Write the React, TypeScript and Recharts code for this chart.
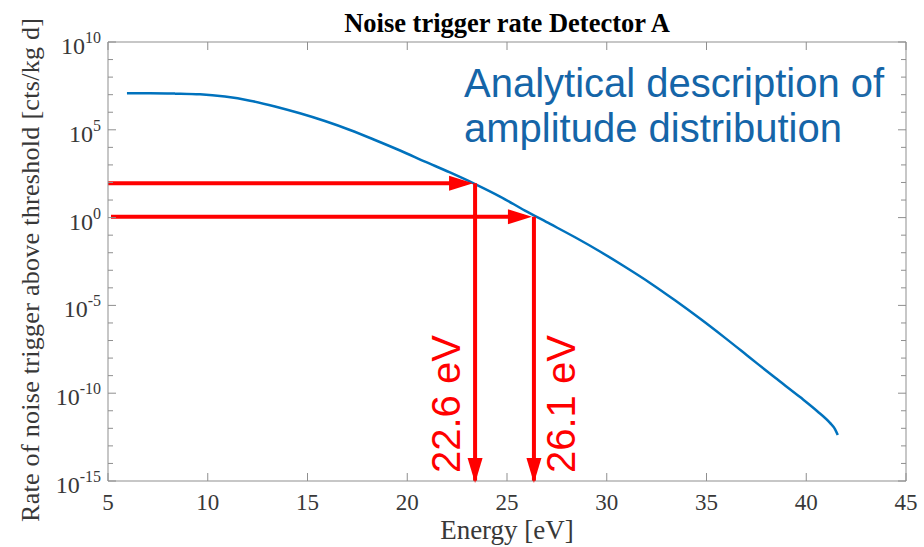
import React from "react";
import {
  LineChart,
  Line,
  XAxis,
  YAxis,
  ReferenceLine,
  ReferenceDot,
} from "recharts";

// energy [eV] and log10 of the trigger rate [cts/kg d]
const energy = [
  5.95, 7.11, 8.36, 9.61, 10.86, 12.12, 13.37, 14.62, 15.87, 17.13, 18.38, 19.64,
  20.89, 22.14, 23.4, 24.65, 25.9, 27.16, 28.41, 29.66, 30.91, 32.17, 33.42, 34.67,
  35.93, 37.18, 38.43, 39.69, 40.54, 41.19, 41.44, 41.58,
];
const logRate = [
  7.08, 7.08, 7.06, 7.02, 6.89, 6.66, 6.33, 5.94, 5.5, 4.99, 4.42, 3.82,
  3.19, 2.57, 1.91, 1.2, 0.4, -0.36, -1.12, -1.93, -2.8, -3.72, -4.71, -5.75,
  -6.85, -7.98, -9.11, -10.22, -11.01, -11.69, -12.04, -12.38,
];

// threshold arrows
const thresholdEnergy = [23.4, 26.35];
const thresholdRate = [89, 1.12];
const arrowStart = [5, 5.15];
const thresholdLabels = ["22.6 eV", "26.1 eV"];

const xTicks = [5, 10, 15, 20, 25, 30, 35, 40, 45];
const decades = [
  -15, -14, -13, -12, -11, -10, -9, -8, -7, -6, -5, -4, -3, -2, -1, 0, 1, 2, 3, 4,
  5, 6, 7, 8, 9, 10,
];

const data = energy.map((e, i) => ({ energy: e, rate: Math.pow(10, logRate[i]) }));
const yTicks = decades.map((d) => Math.pow(10, d));

const AXIS = "#8f8f8f";
const TEXT = "#383838";
const RED = "#ff0000";
const SERIF = "'Liberation Serif', 'Times New Roman', serif";
const SANS = "'Liberation Sans', Arial, sans-serif";

const expOf = (v: number) => Math.round(Math.log10(v));

function LeftTick({ x, y, payload }: any) {
  const exp = expOf(payload.value);
  const major = exp % 5 === 0;
  return (
    <g>
      <line x1={x} y1={y} x2={x + (major ? 8 : 5)} y2={y} stroke={AXIS} strokeWidth={1} />
      {major && (
        <text x={x - 7} y={y + 12} textAnchor="end" fontFamily={SERIF} fontSize={24} fill={TEXT}>
          10
          <tspan dy={-11} fontSize={16}>
            {exp}
          </tspan>
        </text>
      )}
    </g>
  );
}

function RightTick({ x, y, payload }: any) {
  const major = expOf(payload.value) % 5 === 0;
  return <line x1={x} y1={y} x2={x - (major ? 8 : 5)} y2={y} stroke={AXIS} strokeWidth={1} />;
}

function BottomTick({ x, y, payload }: any) {
  return (
    <g>
      <line x1={x} y1={y} x2={x} y2={y - 8} stroke={AXIS} strokeWidth={1} />
      <text x={x} y={y + 29} textAnchor="middle" fontFamily={SERIF} fontSize={23} fill={TEXT}>
        {payload.value}
      </text>
    </g>
  );
}

function TopTick({ x, y }: any) {
  return <line x1={x} y1={y} x2={x} y2={y + 8} stroke={AXIS} strokeWidth={1} />;
}

const rightHead = ({ cx, cy }: any) => (
  <polygon points={`${cx},${cy} ${cx - 24},${cy - 7.5} ${cx - 24},${cy + 7.5}`} fill={RED} />
);

const downHead = (label: string, side: number) => ({ cx, cy }: any) => {
  const tx = side < 0 ? cx - 15 : cx + 41;
  const ty = cy - 8;
  return (
    <g>
      <polygon points={`${cx},${cy + 2} ${cx - 7.5},${cy - 23} ${cx + 7.5},${cy - 23}`} fill={RED} />
      <text
        x={tx}
        y={ty}
        transform={`rotate(-90, ${tx}, ${ty})`}
        fontFamily={SANS}
        fontSize={40}
        fill={RED}
      >
        {label}
      </text>
    </g>
  );
};

export default function App() {
  return (
    <div style={{ position: "absolute", left: 0, top: 0, width: 924, height: 547, background: "#fff" }}>
      <LineChart
        width={924}
        height={547}
        data={data}
        margin={{ top: 12, right: 8, bottom: 8, left: 8 }}
      >
        <XAxis
          dataKey="energy"
          type="number"
          domain={[5, 45]}
          ticks={xTicks}
          allowDataOverflow
          height={58}
          stroke={AXIS}
          tickLine={false}
          tickSize={0}
          tickMargin={0}
          tick={<BottomTick />}
          interval={0}
        />
        <XAxis
          xAxisId="top"
          orientation="top"
          dataKey="energy"
          type="number"
          domain={[5, 45]}
          ticks={xTicks}
          allowDataOverflow
          height={30}
          stroke={AXIS}
          tickLine={false}
          tickSize={0}
          tickMargin={0}
          tick={<TopTick />}
          interval={0}
        />
        <YAxis
          type="number"
          scale="log"
          domain={[1e-15, 1e10]}
          ticks={yTicks}
          allowDataOverflow
          width={100}
          stroke={AXIS}
          tickLine={false}
          tickSize={0}
          tickMargin={0}
          tick={<LeftTick />}
          interval={0}
        />
        <YAxis
          yAxisId="right"
          orientation="right"
          type="number"
          scale="log"
          domain={[1e-15, 1e10]}
          ticks={yTicks}
          allowDataOverflow
          width={10}
          stroke={AXIS}
          tickLine={false}
          tickSize={0}
          tickMargin={0}
          tick={<RightTick />}
          interval={0}
        />
        <Line
          xAxisId="top"
          yAxisId="right"
          dataKey="rate"
          stroke="none"
          dot={false}
          isAnimationActive={false}
        />
        <Line
          type="monotone"
          dataKey="rate"
          stroke="#0072bd"
          strokeWidth={2.5}
          dot={false}
          isAnimationActive={false}
        />
        {thresholdEnergy.map((e, i) => (
          <ReferenceLine
            key={`h${i}`}
            segment={[
              { x: arrowStart[i], y: thresholdRate[i] },
              { x: e - 0.5, y: thresholdRate[i] },
            ]}
            stroke={RED}
            strokeWidth={4}
            ifOverflow="visible"
          />
        ))}
        {thresholdEnergy.map((e, i) => (
          <ReferenceLine
            key={`v${i}`}
            segment={[
              { x: e, y: thresholdRate[i] },
              { x: e, y: 1e-15 },
            ]}
            stroke={RED}
            strokeWidth={4}
            ifOverflow="visible"
          />
        ))}
        {thresholdEnergy.map((e, i) => (
          <ReferenceDot
            key={`hh${i}`}
            x={e - 0.1}
            y={thresholdRate[i]}
            ifOverflow="visible"
            shape={rightHead}
          />
        ))}
        {thresholdEnergy.map((e, i) => (
          <ReferenceDot
            key={`vh${i}`}
            x={e}
            y={1e-15}
            ifOverflow="visible"
            shape={downHead(thresholdLabels[i], i === 0 ? -1 : 1)}
          />
        ))}
      </LineChart>
      <svg
        width={924}
        height={547}
        style={{ position: "absolute", left: 0, top: 0, pointerEvents: "none" }}
      >
        <text x={507} y={32} textAnchor="middle" fontFamily={SERIF} fontWeight="bold" fontSize={26.5} fill="#000">
          Noise trigger rate Detector A
        </text>
        <text x={507} y={539} textAnchor="middle" fontFamily={SERIF} fontSize={27} fill={TEXT}>
          Energy [eV]
        </text>
        <text
          x={39}
          y={270}
          transform="rotate(-90, 39, 270)"
          textAnchor="middle"
          fontFamily={SERIF}
          fontSize={26}
          textLength={504}
          lengthAdjust="spacing"
          fill={TEXT}
        >
          Rate of noise trigger above threshold [cts/kg d]
        </text>
        <text x={464} y={97} fontFamily={SANS} fontSize={40} fill="#1565a8">
          Analytical description of
        </text>
        <text x={464} y={142} fontFamily={SANS} fontSize={40} fill="#1565a8">
          amplitude distribution
        </text>
      </svg>
    </div>
  );
}
